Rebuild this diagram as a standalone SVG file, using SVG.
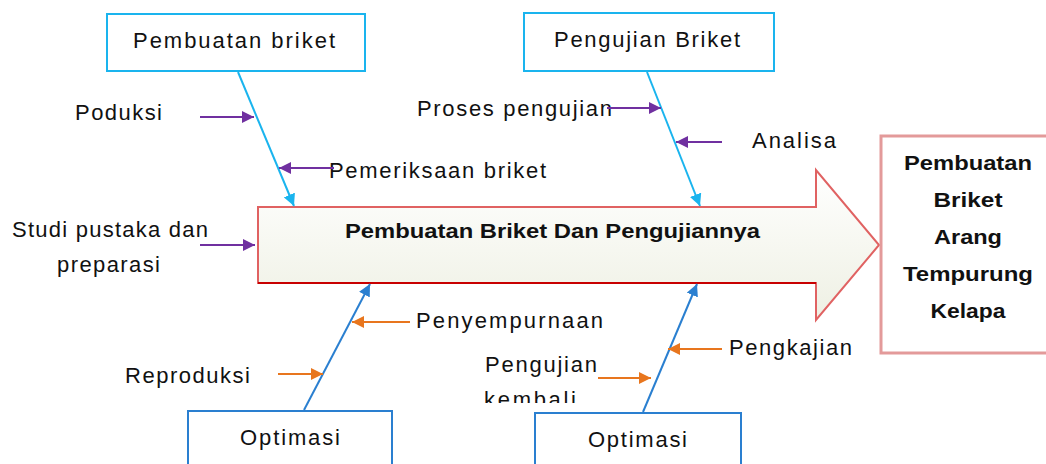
<svg xmlns="http://www.w3.org/2000/svg" width="1046" height="464" viewBox="0 0 1046 464">
<style>
text{font-family:"Liberation Sans",Arial,sans-serif;fill:#111;}
.lbl{font-size:22px;}
.bold{font-size:21px;font-weight:bold;}
.topbox{fill:#fff;stroke:#1ab4ee;stroke-width:2;}
.botbox{fill:#fff;stroke:#2a7fd0;stroke-width:2;}
.lb{stroke:#1ab4ee;stroke-width:2;fill:none;}
.db{stroke:#2a7fd0;stroke-width:2;fill:none;}
.pu{stroke:#7030a0;stroke-width:2;fill:none;}
.or{stroke:#e8761e;stroke-width:2;fill:none;}
</style>
<defs>
<linearGradient id="ag" x1="0" y1="0" x2="0" y2="1">
<stop offset="0" stop-color="#ffffff"/>
<stop offset="1" stop-color="#eef0e3"/>
</linearGradient>
<marker id="mlb" markerUnits="userSpaceOnUse" markerWidth="14" markerHeight="12" refX="12" refY="6" orient="auto"><path d="M0,0 L12,6 L0,12 z" fill="#1ab4ee"/></marker>
<marker id="mdb" markerUnits="userSpaceOnUse" markerWidth="14" markerHeight="12" refX="12" refY="6" orient="auto"><path d="M0,0 L12,6 L0,12 z" fill="#2a7fd0"/></marker>
<marker id="mpu" markerUnits="userSpaceOnUse" markerWidth="14" markerHeight="12" refX="12" refY="6" orient="auto"><path d="M0,0 L12,6 L0,12 z" fill="#7030a0"/></marker>
<marker id="mor" markerUnits="userSpaceOnUse" markerWidth="14" markerHeight="12" refX="12" refY="6" orient="auto"><path d="M0,0 L12,6 L0,12 z" fill="#e8761e"/></marker>
<clipPath id="kc"><rect x="470" y="380" width="140" height="23"/></clipPath>
</defs>

<g id="main-arrow">
<polygon points="258,207 816,207 816,170 879,245 816,320 816,283 258,283" fill="url(#ag)" stroke="#e06262" stroke-width="2"/>
<line x1="258" y1="283" x2="816" y2="283" stroke="#c80000" stroke-width="2"/>
<text class="bold" x="345" y="238" textLength="415" lengthAdjust="spacingAndGlyphs">Pembuatan Briket Dan Pengujiannya</text>
</g>

<g id="result">
<rect x="881" y="136" width="175" height="217" fill="#fff" stroke="#e39a9a" stroke-width="3"/>
<text class="bold" x="968" y="170" text-anchor="middle" textLength="128" lengthAdjust="spacingAndGlyphs">Pembuatan</text>
<text class="bold" x="968" y="207" text-anchor="middle" textLength="69" lengthAdjust="spacingAndGlyphs">Briket</text>
<text class="bold" x="968" y="244" text-anchor="middle" textLength="68" lengthAdjust="spacingAndGlyphs">Arang</text>
<text class="bold" x="968" y="281" text-anchor="middle" textLength="130" lengthAdjust="spacingAndGlyphs">Tempurung</text>
<text class="bold" x="968" y="318" text-anchor="middle" textLength="75" lengthAdjust="spacingAndGlyphs">Kelapa</text>
</g>

<g id="box-pembuatan">
<rect class="topbox" x="107" y="14" width="258" height="57"/>
<text class="lbl" x="133" y="48" textLength="202" lengthAdjust="spacing">Pembuatan briket</text>
</g>
<g id="box-pengujian">
<rect class="topbox" x="524" y="13" width="250" height="58"/>
<text class="lbl" x="554" y="47" textLength="186" lengthAdjust="spacing">Pengujian Briket</text>
</g>
<g id="box-optimasi-1">
<rect class="botbox" x="188" y="411" width="204" height="70"/>
<text class="lbl" x="240" y="445" textLength="100" lengthAdjust="spacing">Optimasi</text>
</g>
<g id="box-optimasi-2">
<rect class="botbox" x="535" y="413" width="206" height="70"/>
<text class="lbl" x="588" y="447" textLength="99" lengthAdjust="spacing">Optimasi</text>
</g>

<g id="labels">
<text class="lbl" x="75" y="120" textLength="87" lengthAdjust="spacing">Poduksi</text>
<text class="lbl" x="329" y="178" textLength="217" lengthAdjust="spacing">Pemeriksaan briket</text>
<text class="lbl" x="417" y="116" textLength="195" lengthAdjust="spacing">Proses pengujian</text>
<text class="lbl" x="752" y="148" textLength="84" lengthAdjust="spacing">Analisa</text>
<text class="lbl" x="12" y="237" textLength="196" lengthAdjust="spacing">Studi pustaka dan</text>
<text class="lbl" x="57" y="272" textLength="103" lengthAdjust="spacing">preparasi</text>
<text class="lbl" x="125" y="383" textLength="125" lengthAdjust="spacing">Reproduksi</text>
<text class="lbl" x="416" y="328" textLength="187" lengthAdjust="spacing">Penyempurnaan</text>
<text class="lbl" x="485" y="372" textLength="112" lengthAdjust="spacing">Pengujian</text>
<text class="lbl" x="484" y="407" textLength="92" lengthAdjust="spacing" clip-path="url(#kc)">kembali</text>
<text class="lbl" x="729" y="355" textLength="123" lengthAdjust="spacing">Pengkajian</text>
</g>

<g id="connectors">
<line class="lb" x1="238" y1="72" x2="294" y2="206" marker-end="url(#mlb)"/>
<line class="lb" x1="647" y1="72" x2="700" y2="206" marker-end="url(#mlb)"/>
<line class="db" x1="304" y1="410" x2="370" y2="284" marker-end="url(#mdb)"/>
<line class="db" x1="643" y1="412" x2="697" y2="284" marker-end="url(#mdb)"/>
<line class="pu" x1="200" y1="117" x2="254" y2="117" marker-end="url(#mpu)"/>
<line class="pu" x1="334" y1="168" x2="279" y2="168" marker-end="url(#mpu)"/>
<line class="pu" x1="607" y1="108" x2="661" y2="108" marker-end="url(#mpu)"/>
<line class="pu" x1="722" y1="142" x2="676" y2="142" marker-end="url(#mpu)"/>
<line class="pu" x1="200" y1="245" x2="255" y2="245" marker-end="url(#mpu)"/>
<line class="or" x1="410" y1="322" x2="352" y2="322" marker-end="url(#mor)"/>
<line class="or" x1="278" y1="374" x2="323" y2="374" marker-end="url(#mor)"/>
<line class="or" x1="722" y1="349" x2="668" y2="349" marker-end="url(#mor)"/>
<line class="or" x1="598" y1="378" x2="651" y2="378" marker-end="url(#mor)"/>
</g>
</svg>
